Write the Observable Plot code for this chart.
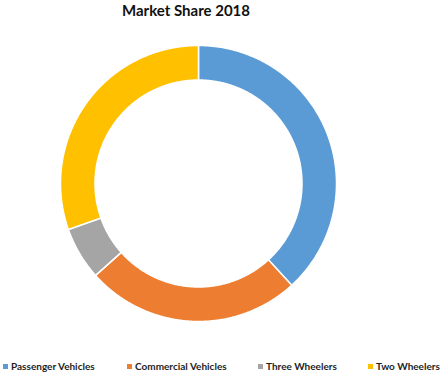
<!DOCTYPE html>
<html><head><meta charset="utf-8">
<script src="https://cdn.jsdelivr.net/npm/d3@7"></script>
<script src="https://cdn.jsdelivr.net/npm/@observablehq/plot@0.6"></script>
<style>
body{margin:0;background:#fff;font-family:Lato,"DejaVu Sans",sans-serif;}
#wrap{position:relative;width:441px;height:373px;overflow:hidden;background:#fff}
#title{position:absolute;top:1px;left:0;width:372px;text-align:center;font-weight:700;font-size:15px;line-height:18px;color:#111}
#chart{position:absolute;top:28px;left:0}
#legend{position:absolute;top:359px;left:0;width:441px;height:14px}
.item{position:absolute;top:0;font-size:10px;font-weight:700;color:#1e1e1e;white-space:nowrap;line-height:14px}
.sw{display:inline-block;width:5px;height:5px;margin-right:3px;vertical-align:middle;position:relative;top:-1px}
</style>
</head><body>
<div id="wrap">
  <div id="title"></div>
  <div id="chart"></div>
  <div id="legend"></div>
</div>
<script>
const chartTitle = "Market Share 2018";
const categories = ["Passenger Vehicles", "Commercial Vehicles", "Three Wheelers", "Two Wheelers"];
const shares = [38.2, 25.2, 6.2, 30.4];
const colors = ["#5B9BD5", "#ED7D31", "#A5A5A5", "#FFC000"];

const holeRatio = 0.75;
const legendX = [3, 127, 258, 368];

document.getElementById("title").textContent = chartTitle;

// Build ring slice outlines from the shares (angle clockwise from top)
const total = d3.sum(shares);
const pts = [];
let start = 0;
categories.forEach((cat, i) => {
  const a0 = start * 2 * Math.PI / total;
  const a1 = (start + shares[i]) * 2 * Math.PI / total;
  start += shares[i];
  const n = Math.max(8, Math.ceil((a1 - a0) / (Math.PI / 360)));
  for (let k = 0; k <= n; k++) {
    const a = a0 + (a1 - a0) * k / n;
    pts.push({cat, x: Math.sin(a), y: Math.cos(a)});
  }
  for (let k = n; k >= 0; k--) {
    const a = a0 + (a1 - a0) * k / n;
    pts.push({cat, x: holeRatio * Math.sin(a), y: holeRatio * Math.cos(a)});
  }
});

const chart = Plot.plot({
  width: 441,
  height: 315,
  marginLeft: 60,
  marginRight: 105,
  marginTop: 17,
  marginBottom: 22,
  x: {domain: [-1, 1], axis: null},
  y: {domain: [-1, 1], axis: null},
  color: {domain: categories, range: colors},
  marks: [
    Plot.line(pts, {x: "x", y: "y", z: "cat", fill: "cat", stroke: "white", strokeWidth: 1.5, curve: "linear-closed"})
  ]
});
document.getElementById("chart").appendChild(chart);

const legend = document.getElementById("legend");
categories.forEach((cat, i) => {
  const item = document.createElement("div");
  item.className = "item";
  item.style.left = legendX[i] + "px";
  const sw = document.createElement("span");
  sw.className = "sw";
  sw.style.background = colors[i];
  item.appendChild(sw);
  item.appendChild(document.createTextNode(cat));
  legend.appendChild(item);
});
</script>
</body></html>
